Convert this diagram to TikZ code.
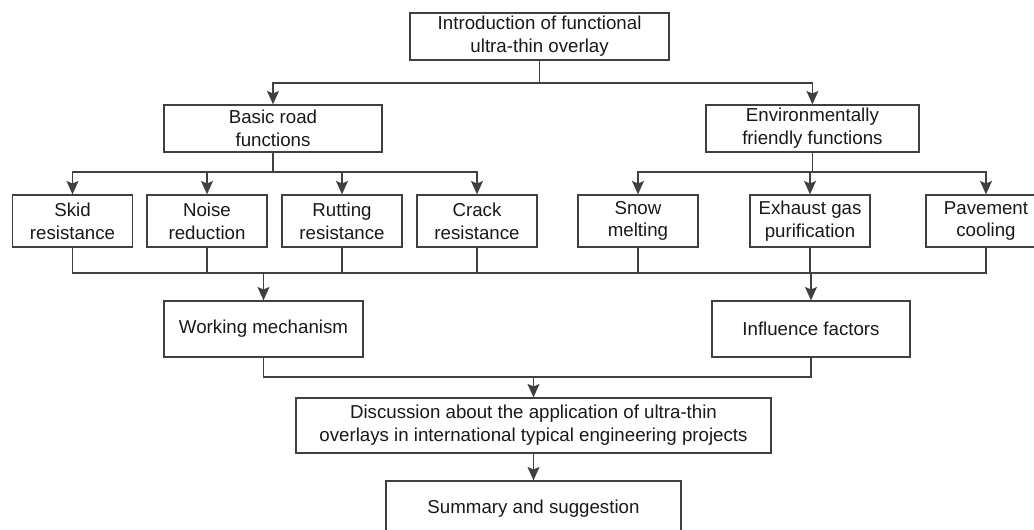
\documentclass[tikz,border=0pt]{standalone}
\usepackage{fontspec}
\setmainfont{Liberation Sans}
\usepackage{xcolor}
\usepackage{tikz}
\usetikzlibrary{arrows.meta,positioning,calc}

\begin{document}
\begin{tikzpicture}[
    box/.style={draw=black!75, line width=0.95pt, text=black!90, align=center, inner sep=2pt,
                font=\fontsize{13.3}{16.2}\selectfont, minimum height=1.175cm},
    leaf/.style={box, minimum width=3.0cm, minimum height=1.3cm},
    wide/.style={box, minimum height=1.4cm},
    link/.style={draw=black!75, line width=0.95pt},
    arr/.style={link, -{Stealth[length=9.5pt, width=8.5pt, inset=1.8pt]}}
]
\clip (0,0) rectangle (25.85,-13.25);
% top level
\node[box, minimum width=6.475cm] (intro) at (13.49,-0.91) {Introduction of functional\\ultra-thin overlay};
\node[box, minimum width=5.45cm] (basic) at (6.825,-3.2125) {Basic road\\functions};
\node[box, minimum width=5.325cm] (env) at (20.31,-3.2125) {Environmentally\\friendly functions};
% function boxes
\node[leaf] (skid) at (1.8125,-5.525) {Skid\\resistance};
\node[leaf] (noise) at (5.175,-5.525) {Noise\\reduction};
\node[leaf] (rut) at (8.55,-5.525) {Rutting\\resistance};
\node[leaf] (crack) at (11.925,-5.525) {Crack\\resistance};
\node[leaf] (snow) at (15.95,-5.525) {Snow\\melting};
\node[leaf] (exhaust) at (20.25,-5.525) {Exhaust gas\\purification};
\node[leaf] (pave) at (24.65,-5.525) {Pavement\\cooling};
% lower part
\node[wide, minimum width=4.975cm] (work) at (6.5875,-8.225) {Working mechanism};
\node[wide, minimum width=4.95cm] (infl) at (20.275,-8.225) {Influence factors};
\node[box, minimum width=11.875cm, minimum height=1.375cm] (disc) at (13.3375,-10.6375) {Discussion about the application of ultra-thin\\overlays in international typical engineering projects};
\node[wide, minimum width=7.375cm] (summ) at (13.3375,-12.725) {Summary and suggestion};

\coordinate (j1) at (0,-2.075);
\coordinate (j2) at (0,-4.3);
\coordinate (j3) at (0,-6.825);
\coordinate (j4) at (0,-9.425);

% splitting
\draw[link] (intro.south) -- (intro.south |- j1);
\draw[arr] (intro.south |- j1) -| (basic.north);
\draw[arr] (intro.south |- j1) -| (env.north);
\draw[link] (basic.south) -- (basic.south |- j2);
\foreach \n in {skid,noise,rut,crack}
  \draw[arr] (basic.south |- j2) -| (\n.north);
\draw[link] (env.south) -- (env.south |- j2);
\foreach \n in {snow,exhaust,pave}
  \draw[arr] (env.south |- j2) -| (\n.north);

% gathering
\draw[link] (skid.south) |- (pave.south |- j3) -- (pave.south);
\foreach \n in {noise,rut,crack,snow,exhaust}
  \draw[link] (\n.south) -- (\n.south |- j3);
\draw[arr] (work.north |- j3) -- (work.north);
\draw[arr] (infl.north |- j3) -- (infl.north);
\draw[link] (work.south) |- (infl.south |- j4) -- (infl.south);
\draw[arr] (disc.north |- j4) -- (disc.north);
\draw[arr] (disc.south) -- (summ.north);
\end{tikzpicture}
\end{document}
